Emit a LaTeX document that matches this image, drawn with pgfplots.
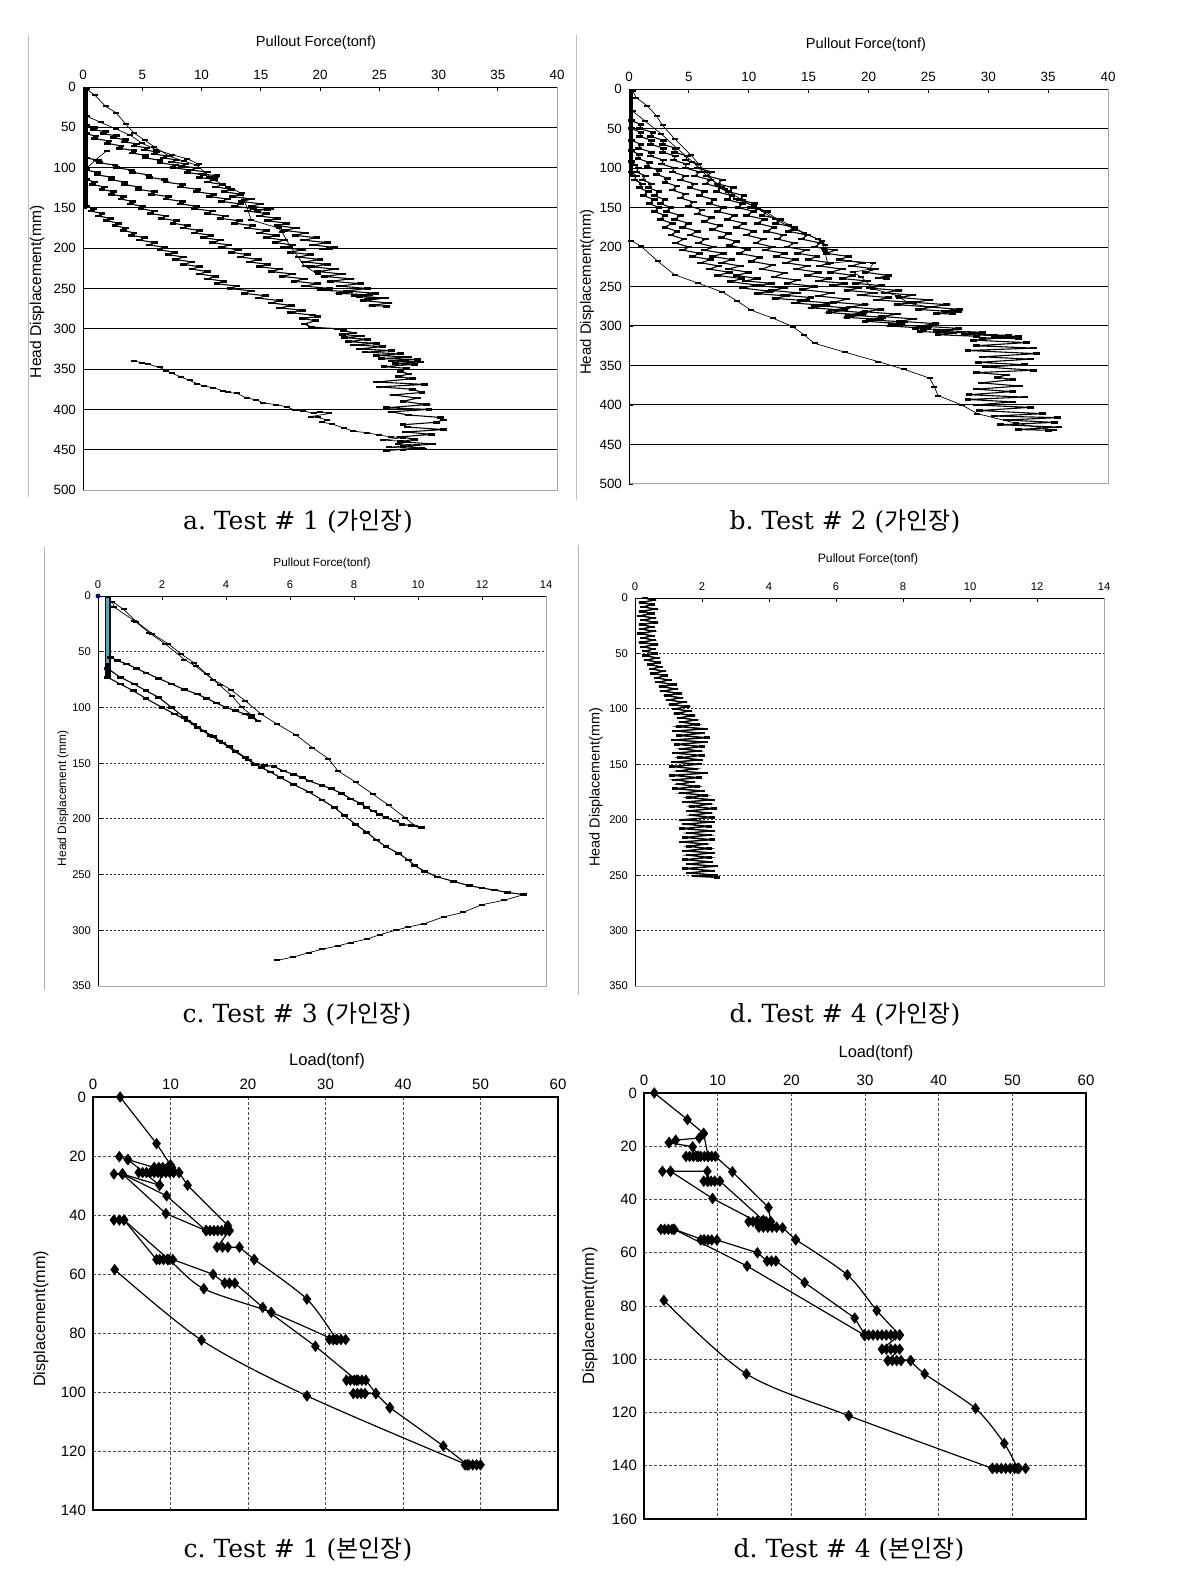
\documentclass[border=0pt]{standalone}
\usepackage{fontspec}
\setmainfont{Liberation Sans}
\newfontfamily\capfont{DejaVu Serif}
\newfontfamily\krfont{Noto Sans CJK KR}
\usepackage{pgfplots}
\pgfplotsset{compat=1.18}
\definecolor{bandcyan}{RGB}{70,170,200}

\pgfplotsset{
  base/.style={
    scale only axis, anchor=north west, y dir=reverse,
    xticklabel pos=upper, xtick pos=upper, ytick pos=lower,
    tick align=inside, major tick length=2pt,
    tick style={black, line width=0.4pt},
    /pgf/number format/assume math mode=true,
  },
  pull/.style={base,
    axis line style={draw=black!35, line width=0.5pt},
    minor ytick={50,100,...,450}, yminorgrids, minor tick length=0pt,
    minor grid style={black, line width=0.5pt},
    ticklabel style={font=\fontsize{6.7}{8}\selectfont},
  },
  pullsmall/.style={base,
    axis line style={draw=black!35, line width=0.5pt},
    ymajorgrids, major grid style={black!80, dash pattern=on 1.2pt off 0.8pt, line width=0.45pt},
    ticklabel style={font=\fontsize{5.6}{7}\selectfont},
  },
  load/.style={base,
    axis line style={draw=black, line width=0.6pt},
    xmajorgrids, ymajorgrids, major tick length=0pt,
    major grid style={black!70, dash pattern=on 1.5pt off 1pt, line width=0.45pt},
    ticklabel style={font=\fontsize{7.5}{9}\selectfont},
  },
  band/.style={black, line width=0.55pt, mark=-, mark size=1.7pt, mark options={line width=1.3pt}},
  thin/.style={black, line width=0.35pt, mark=-, mark size=1.5pt, mark options={line width=1pt}},
  dia/.style={black, line width=0.6pt, mark=diamond*, mark size=2.4pt},
}
\newcommand{\mycap}[3]{{\capfont\fontsize{12.5}{14}\selectfont #1.\ Test\ \#\ #2\ ({\krfont\fontsize{12}{14}\selectfont #3})}}

\begin{document}
\begin{tikzpicture}
\path[use as bounding box] (0,0) rectangle (592pt,-786.5pt);

% ---------- a. Test #1 (가인장)
\begin{axis}[pull, at={(41.5pt,-43.5pt)}, width=237pt, height=201.5pt,
  xmin=0, xmax=40, ymin=0, ymax=500, xtick={0,5,...,40}, ytick={0,50,...,500}]
\draw[black, line width=1pt] (axis cs:0,500) -- (axis cs:0,0) -- (axis cs:40,0);
\addplot[black, line width=2.2pt] coordinates {(0.2,0) (0.2,150)};
\addplot[band] coordinates {(0.3,48)(1.0,50.5)(0.9,53)(1.9,55.5)(1.7,58)(2.8,60.5)(2.6,63)(3.6,65.5)(3.5,68)(4.5,70.5)(4.3,73)(5.4,75.5)(5.2,78)(6.2,80.5)(6.0,83)(7.0,85.5)(6.8,88)(7.9,90.5)(7.5,93)(8.7,95.5)(8.3,98)(9.6,100.5)(9.1,103)(10.5,105.5)(10.0,108)(11.3,110)(10.7,112)(11.2,111)};
\addplot[band] coordinates {(0.3,58)(1.1,61)(1.0,64)(2.2,67)(2.1,70)(3.2,73)(3.1,76)(4.3,79)(4.2,82)(5.3,85)(5.3,88)(6.5,91)(6.5,94)(7.8,97)(7.6,100)(9.0,103)(8.8,106)(10.2,109)(9.8,112)(11.1,115)(10.5,118)(11.8,121)(11.2,124)(12.5,127)(11.9,130)(13.3,133)(12.6,136)(14.2,139)(13.4,142)(15.0,145)(14.2,148)(15.8,151)(14.7,153)(15.6,152)};
\addplot[band] coordinates {(0.3,88)(1.3,91)(1.4,94)(2.7,97)(2.8,100)(4.1,103)(4.2,106)(5.5,109)(5.6,112)(6.9,115)(7.0,118)(8.4,121)(8.2,124)(9.7,127)(9.6,130)(11.0,133)(10.7,136)(12.2,139)(11.7,142)(13.3,145)(12.8,148)(14.4,151)(13.9,154)(15.5,157)(14.9,160)(16.4,163)(15.6,166)(17.2,169)(16.4,172)(18.0,175)(17.0,178)(18.8,181)(17.9,184)(19.7,187)(18.6,190)(20.6,193)(19.4,196)(21.2,199)(20.2,201)(20.8,200)};
\addplot[band] coordinates {(0.3,103)(1.2,106)(1.2,109)(2.4,112)(2.4,115)(3.5,118)(3.5,121)(4.7,124)(4.7,127)(6.0,130)(5.8,133)(7.2,136)(7.0,139)(8.4,142)(8.2,145)(9.6,148)(9.4,151)(10.9,154)(10.5,157)(12.0,160)(11.6,163)(13.2,166)(12.8,169)(14.3,172)(13.9,175)(15.5,178)(14.9,181)(16.3,184)(15.5,187)(17.0,190)(16.2,193)(17.7,196)(16.9,199)(18.5,202)(17.5,205)(19.2,208)(18.2,211)(20.0,214)(18.7,217)(20.6,220)(19.3,223)(21.3,226)(19.8,229)(21.9,232)(20.4,235)(22.6,238)(20.9,241)(23.4,244)(21.6,247)(24.0,250)(22.2,253)(24.7,256)(22.9,259)(25.4,262)(23.7,265)(25.8,268)(24.4,271)(25.6,272)};
\addplot[band] coordinates {(0.3,115)(1.0,118)(0.8,121)(1.8,124)(1.6,127)(2.6,130)(2.4,133)(3.4,136)(3.2,139)(4.2,142)(4.0,145)(5.0,148)(4.9,151)(6.0,154)(5.7,157)(7.0,160)(6.6,163)(7.9,166)(7.6,169)(8.8,172)(8.5,175)(9.8,178)(9.4,181)(10.8,184)(10.2,187)(11.6,190)(10.9,193)(12.3,196)(11.7,199)(13.1,202)(12.5,205)(13.9,208)(13.3,211)(14.8,214)(14.0,217)(15.6,220)(14.9,223)(16.6,226)(15.9,229)(17.7,232)(16.8,235)(18.7,238)(17.8,241)(19.8,244)(18.7,247)(20.8,250)(20.0,252)(22.5,254)(21.6,256)(24.2,258)(23.3,260)(25.5,262)(24.0,263)};
\addplot[band] coordinates {(0.3,148)(0.9,151)(0.7,154)(1.6,157)(1.3,160)(2.3,163)(2.0,166)(3.0,169)(2.7,172)(3.6,175)(3.4,178)(4.3,181)(4.1,184)(5.2,187)(4.8,190)(6.0,193)(5.6,196)(6.9,199)(6.5,202)(7.7,205)(7.2,208)(8.5,211)(7.8,214)(9.2,217)(8.5,220)(9.8,223)(9.2,226)(10.5,229)(9.8,232)(11.2,235)(10.5,238)(11.9,241)(11.3,244)(13.0,247)(12.4,250)(14.2,253)(13.6,256)(15.4,259)(14.8,262)(16.6,265)(15.9,268)(17.6,271)(16.6,274)(18.5,277)(17.5,280)(19.4,283)(19.8,285)(18.5,287)(19.6,290)(18.7,294)(19.3,298)(21.5,300)(22.0,302)(22.8,305)(21.9,307)(23.5,309)(22.1,311)(24.0,313)(22.4,316)(24.8,318)(22.8,320)(25.3,322)(23.3,325)(26.0,327)(23.8,329)(26.8,331)(24.8,333)(27.5,335)(25.2,337)(28.2,338)(26.0,340)(28.5,341)(26.4,343)(28.0,344)(25.4,347)(27.3,349)(26.8,353)(27.5,356)(26.6,359)(27.8,362)(24.8,366)(28.8,369)(25.0,372)(27.8,375)(28.6,379)(26.2,382)(28.2,386)(27.0,390)(29.0,394)(25.6,398)(29.2,400)(26.0,403)(27.5,407)(30.2,410)(30.4,413)(29.8,416)(27.0,419)(27.4,422)(30.4,425)(27.2,428)(29.4,431)(26.8,434)(28.0,437)(26.8,440)(29.5,443)(27.0,446)(28.6,448)(25.6,451)};
\addplot[thin] coordinates {(4.3,340)(5.0,342)(5.5,344)(6.5,348)(7.0,352)(7.5,355)(8.3,360)(9.0,364)(9.6,368)(10.2,371)(11.0,373)(11.8,377)(12.2,379)(13.0,380)(13.8,386)(14.6,388)(15.2,392)(16.3,394)(17.2,397)(17.9,401)(18.6,402)(19.5,405)(20.0,403)(20.8,405)(19.2,409)(19.8,410)(20.6,413)(20.2,416)(21.0,418)(22.0,423)(22.8,427)(24.0,429)(25.0,432)(26.0,434)(27.0,435)(25.3,438)(27.4,440)(26.6,443)(28.2,444)(25.8,447)(28.8,449)(27.0,450)};
\addplot[thin] coordinates {(0.3,3)(1.0,10)(1.9,24)(2.8,32)(3.6,46)(4.3,57)(5.2,66)(6.0,74)(7.3,86)(8.5,92)(9.6,97)(11.0,115)(12.2,124)(13.4,132)(13.6,140)(14.2,165)(16.5,175)(16.8,180)(17.5,198)(18.7,222)(19.8,232)};
\addplot[thin] coordinates {(0.3,36)(1.5,44)(2.8,52)(4.0,60)(5.0,70)(6.2,78)(7.5,84)(8.8,89)(9.8,96)};
\addplot[thin] coordinates {(0.3,101)(1.1,90)(2.0,79)};
\end{axis}

% ---------- b. Test #2 (가인장)
\begin{axis}[pull, at={(314.5pt,-44.5pt)}, width=239.5pt, height=197.5pt,
  xmin=0, xmax=40, ymin=0, ymax=500, xtick={0,5,...,40}, ytick={0,50,...,500}]
\draw[black, line width=1pt] (axis cs:0,500) -- (axis cs:0,0) -- (axis cs:40,0);
\addplot[black, line width=2.2pt] coordinates {(0.15,0) (0.15,112)};
\addplot[band] coordinates {(0.2,40)(1.0,45)(0.9,50)(2.0,55)(1.8,60)(2.9,65)(2.8,70)(3.9,75)(3.8,80)(4.9,85)(4.7,90)(5.8,95)(5.7,100)(6.9,105)(6.5,110)(7.8,115)(7.4,120)(8.7,125)(8.3,130)(9.6,135)(9.2,140)(10.5,145)(10.1,150)(11.6,155)(11.1,160)(12.7,165)(12.2,170)(13.8,175)(13.3,180)(14.9,185)(14.4,190)(16.0,195)(15.5,200)(17.2,204)(16.5,208)(18.3,212)(17.6,216)(19.5,220)(18.6,224)(20.6,228)(19.7,232)(21.7,236)(20.8,239)(21.5,240)};
\addplot[band] coordinates {(0.2,50)(1.0,55)(0.9,60)(1.9,65)(1.8,70)(2.9,75)(2.8,80)(3.9,85)(3.7,90)(4.8,95)(4.7,100)(5.9,105)(5.5,110)(6.8,115)(6.4,120)(7.7,125)(7.3,130)(8.6,135)(8.2,140)(9.5,145)(9.1,150)(10.4,155)(9.8,160)(11.3,165)(10.7,170)(12.1,175)(11.5,180)(12.9,185)(12.4,190)(13.8,195)(13.2,200)(14.8,204)(14.1,208)(15.7,212)(15.0,216)(16.8,220)(15.9,224)(17.8,228)(16.8,232)(18.7,236)(17.8,240)(19.9,243)(18.9,246)(21.1,249)(20.1,252)(22.5,255)(21.3,258)(23.7,261)(22.6,264)(25.1,267)(23.8,270)(26.5,273)(25.2,276)(27.6,279)(26.3,281)(27.5,282)};
\addplot[band] coordinates {(0.2,65)(1.0,70)(0.8,75)(1.9,80)(1.8,85)(2.9,90)(2.7,95)(3.8,100)(3.6,105)(4.7,110)(4.3,115)(5.5,120)(5.1,125)(6.3,130)(5.9,135)(7.1,140)(6.7,145)(7.9,150)(7.4,155)(8.8,160)(8.2,165)(9.6,170)(9.0,175)(10.4,180)(9.8,185)(11.2,190)(10.6,195)(12.0,200)(11.4,204)(13.0,208)(12.3,212)(13.9,216)(13.1,220)(14.9,224)(14.0,228)(15.8,232)(14.9,236)(16.7,240)(15.8,243)(18.0,246)(17.0,249)(19.2,252)(18.2,255)(20.5,258)(19.3,261)(21.7,264)(20.7,267)(23.5,270)(22.4,273)(25.3,276)(24.2,279)(27.1,282)(25.7,284)(27.0,285)};
\addplot[band] coordinates {(0.2,78)(0.85,83)(0.75,88)(1.7,93)(1.5,98)(2.5,103)(2.3,108)(3.2,113)(3.0,118)(4.0,123)(3.6,128)(4.7,133)(4.3,138)(5.4,143)(5.0,148)(6.1,153)(5.7,158)(6.9,163)(6.3,168)(7.6,173)(7.0,178)(8.3,183)(7.7,188)(9.0,193)(8.4,198)(9.9,203)(9.2,208)(10.9,213)(10.2,218)(12.0,223)(11.1,228)(13.0,233)(12.1,238)(14.1,242)(13.2,246)(15.5,250)(14.5,254)(16.9,258)(15.8,262)(18.2,266)(17.1,270)(19.7,273)(18.4,276)(21.0,279)(19.7,282)(22.4,285)(21.1,288)(23.8,291)(22.6,294)(25.6,297)(24.3,300)(27.5,303)(26.5,306)(29.5,308)(28.5,310)(31.7,312)(30.5,314)(32.0,315)};
\addplot[band] coordinates {(0.2,92)(0.5,96)(0.8,100)(0.6,105)(1.4,110)(1.1,115)(1.9,120)(1.6,125)(2.5,130)(2.1,135)(3.0,140)(2.6,145)(3.5,150)(3.1,155)(4.3,160)(3.8,165)(5.0,170)(4.5,175)(5.7,180)(5.1,185)(6.4,190)(5.8,195)(7.1,200)(6.3,204)(7.9,208)(7.0,212)(8.6,216)(7.7,220)(9.3,224)(8.3,228)(10.0,232)(9.0,236)(10.7,240)(9.7,243)(11.9,246)(10.8,249)(13.0,252)(11.9,255)(14.1,258)(12.9,261)(15.2,264)(14.3,268)(16.9,271)(15.5,274)(18.2,277)(16.9,280)(19.6,283)(18.3,286)(21.2,289)(20.1,292)(23.0,295)(21.9,298)(25.0,301)(23.9,303)(26.8,305)(25.7,307)(28.6,309)(28.0,311)(30.5,312)(32.5,313)(28.8,318)(33.2,321)(29.0,325)(33.8,328)(28.3,331)(34.0,335)(29.5,339)(33.5,342)(29.2,346)(33.0,349)(29.8,352)(33.8,356)(29.0,359)(31.5,362)(30.8,365)(32.0,368)(29.4,372)(32.6,376)(29.0,380)(32.0,383)(28.4,387)(33.0,390)(28.3,393)(32.0,396)(29.0,400)(33.5,403)(29.3,407)(34.5,411)(30.5,414)(35.8,416)(31.5,419)(35.5,422)(31.0,425)(35.9,428)(32.5,431)(35.0,432)};
\addplot[band] coordinates {(0.2,105)(0.6,110)(0.45,115)(1.1,120)(0.85,125)(1.6,130)(1.2,135)(2.1,140)(1.7,145)(2.5,150)(2.1,155)(3.0,160)(2.6,165)(3.6,170)(3.0,175)(4.0,180)(3.5,185)(4.6,190)(3.9,195)(5.0,200)(4.5,204)(5.9,208)(5.3,212)(6.8,216)(6.0,220)(7.5,224)(6.7,228)(8.4,232)(7.4,236)(9.4,240)(8.5,244)(10.6,248)(9.5,252)(11.7,256)(10.7,259)(13.2,262)(12.2,265)(14.8,268)(13.8,271)(16.5,274)(15.2,277)(18.0,280)(16.7,283)(19.5,286)(18.2,289)(21.0,292)(19.7,294)(22.8,297)(21.8,300)(24.9,303)(24.6,305)(24.3,307)(27.1,309)(25.8,311)(29.0,313)(29.5,315)(32.5,316)};
\addplot[thin] coordinates {(0.3,2)(0.6,11)(1.5,21)(2.3,34)(2.8,46)(3.8,63)(5.2,84)(6.4,105)(7.4,122)(8.9,139)(10.4,148)(11.3,154)(12.3,164)(13.4,172)(14.6,182)(16.1,193)(16.3,203)(16.6,221)(18.4,218)(20.4,220)(20.1,228)(18.7,232)(19.4,238)(20.4,253)(22.5,262)(23.3,271)(25.0,276)};
\addplot[thin] coordinates {(0.3,28)(1.3,40)(2.7,57)(4.0,75)(5.3,92)(6.5,110)(8.0,127)(9.5,141)(10.8,152)(12.2,165)(13.9,178)(15.8,190)(16.4,197)(16.4,205)};
\addplot[thin] coordinates {(0.2,192)(1.0,199)(2.4,218)(3.8,235)(5.8,246)(7.8,257)(9.0,268)(10.2,280)(12.0,290)(13.7,301)(14.6,311)(15.5,322)(18.0,333)(20.8,345)(23.0,355)(25.1,366)(25.5,377)(25.8,388)(27.8,400)(29.1,411)(32.3,423)(35.5,432)};
\end{axis}

% ---------- c. Test #3 (가인장)
\begin{axis}[pullsmall, at={(49pt,-298pt)}, width=224pt, height=195pt,
  xmin=0, xmax=14, ymin=0, ymax=350, xtick={0,2,...,14}, ytick={0,50,...,350}]
\draw[black, line width=1pt] (axis cs:0,350) -- (axis cs:0,0) -- (axis cs:14,0);
\addplot[black, line width=3pt] coordinates {(0.3,0) (0.3,72)};
\addplot[bandcyan, line width=1.7pt] coordinates {(0.3,2) (0.3,60)};
\addplot[only marks, mark=*, mark size=1pt, blue!60!black] coordinates {(0,0)};
\addplot[thin] coordinates {(0.45,5)(0.5,10)(1.13,22)(1.6,33)(2.1,43)(2.7,57)(3.05,63)(3.6,75)(4.15,84)(4.6,94)(5.1,106)(5.6,115)(6.2,125)(6.7,136)(7.2,146)(7.5,157)(8.05,167)(8.6,178)(9.1,188)(9.6,199)(9.9,206)};
\addplot[thin] coordinates {(0.45,5)(0.8,12)(1.2,23)(1.7,34)(2.2,43)(2.6,52)(3.0,60)(3.4,70)(3.8,80)(4.2,90)(4.5,100)(4.8,107)(5.0,112)};
\addplot[band] coordinates {(0.4,55)(0.6,58)(0.9,61)(1.2,65)(1.5,69)(1.9,74)(2.3,79)(2.7,84)(3.1,88)(3.4,92)(3.7,96)(4.0,100)(4.3,103)(4.6,106)(4.8,109)(5.0,112)};
\addplot[band] coordinates {(0.3,65)(0.7,73)(1.13,79)(1.5,85)(1.9,91)(2.3,100)(2.7,109)(3.0,115)(3.3,121)(3.6,126)(3.8,130)(4.1,135)(4.3,139)(4.6,145)(4.9,151)(5.2,152)(5.5,153)(5.8,157)(6.1,160)(6.4,163)(6.6,166)(7.0,170)(7.3,173)(7.6,177)(7.9,182)(8.2,186)(8.4,190)(8.6,193)(8.8,196)(9.0,199)(9.3,202)(9.5,205)(9.8,206)(10.1,208)};
\addplot[band] coordinates {(0.3,73)(0.7,79)(1.1,85)(1.5,92)(2.0,100)(2.4,106)(2.8,112)(3.1,118)(3.5,125)(3.9,132)(4.3,140)(4.7,147)(5.1,154)(5.4,158)(5.7,163)(6.1,169)(6.6,176)(7.0,183)(7.4,190)(7.7,197)(8.05,205)(8.4,212)(8.7,219)(9.0,225)(9.4,231)(9.7,237)(9.9,242)(10.2,247)(10.6,252)(11.1,256)(11.6,260)(12.0,262)(12.4,264)(12.8,266)(13.3,268)};
\addplot[thin] coordinates {(13.3,268)(12.7,273)(12.0,277)(11.4,284)(10.8,288)(10.2,294)(9.7,297)(9.3,300)(8.8,304)(8.4,308)(7.9,311)(7.5,314)(7.0,317)(6.6,320)(6.1,324)(5.6,327)};
\end{axis}

% ---------- d. Test #4 (가인장)
\begin{axis}[pullsmall, at={(317.5pt,-299pt)}, width=234.5pt, height=194pt,
  xmin=0, xmax=14, ymin=0, ymax=350, xtick={0,2,...,14}, ytick={0,50,...,350}]
\draw[black, line width=1pt] (axis cs:0,350) -- (axis cs:0,0) -- (axis cs:14,0);
\addplot[black, line width=0.7pt, mark=-, mark size=1.5pt, mark options={line width=1.2pt}] coordinates {(0.3,0)(0.55,2)(0.2,4)(0.5,6)(0.25,8)(0.6,10)(0.2,12)(0.5,14)(0.15,16)(0.55,18)(0.25,20)(0.6,22)(0.2,24)(0.5,26)(0.2,28)(0.55,30)(0.15,32)(0.5,34)(0.25,36)(0.55,38)(0.2,40)(0.6,42)(0.25,44)(0.55,46)(0.3,48)(0.6,50)(0.3,52)(0.65,54)(0.35,56)(0.7,58)(0.45,60)(0.75,62)(0.5,64)(0.85,66)(0.55,68)(0.9,70)(0.65,72)(1.0,74)(0.7,76)(1.15,78)(0.8,80)(1.2,82)(0.85,84)(1.3,86)(0.95,88)(1.35,90)(1.0,92)(1.45,94)(1.1,96)(1.55,98)(1.2,100)(1.6,102)(1.25,104)(1.7,106)(1.35,108)(1.8,110)(1.4,112)(1.85,114)(1.3,116)(2.1,118)(1.2,120)(2.0,122)(1.3,124)(2.15,126)(1.15,128)(2.1,130)(1.25,132)(2.0,134)(1.4,136)(1.9,138)(1.2,140)(2.0,142)(1.35,144)(1.95,146)(1.15,148)(1.9,150)(1.1,152)(1.8,154)(1.3,156)(2.1,158)(1.1,160)(1.9,162)(1.2,164)(1.7,166)(1.3,168)(1.85,170)(1.2,172)(2.0,174)(1.4,176)(2.1,178)(1.6,180)(2.3,182)(1.5,184)(2.2,186)(1.7,188)(2.35,190)(1.6,192)(2.2,194)(1.7,196)(2.3,198)(1.4,200)(2.3,202)(1.5,204)(2.2,206)(1.4,208)(2.3,210)(1.6,212)(2.2,214)(1.5,216)(2.3,218)(1.4,220)(2.1,222)(1.6,224)(2.2,226)(1.5,228)(2.3,230)(1.6,232)(2.2,234)(1.5,236)(2.25,238)(1.6,240)(2.4,242)(1.5,244)(2.3,246)(1.6,248)(2.4,250)(1.8,251)(2.45,252)};
\end{axis}

% ---------- c. Test #1 (본인장)
\begin{axis}[load, at={(46.5pt,-548.5pt)}, width=232.5pt, height=206.5pt,
  xmin=0, xmax=60, ymin=0, ymax=140, xtick={0,10,...,60}, ytick={0,20,...,140}]
\addplot[dia] coordinates {(3.5,0)(8.2,15.8)(10.0,23.0)(11.1,25.6)(12.2,29.9)(17.4,43.6)(17.6,45.3)};
\addplot[dia] coordinates {(7.9,23.9)(8.5,23.9)(9.0,23.9)(9.6,23.9)(10.2,23.9)};
\addplot[dia] coordinates {(5.9,25.6)(6.4,25.6)(6.9,25.6)(7.4,25.6)(7.9,25.6)(8.4,25.6)(8.9,25.6)(9.4,25.6)(9.9,25.6)(10.4,25.6)(11.1,25.6)};
\addplot[dia] coordinates {(3.4,20.2)(4.5,21.2)(7.9,23.9)};
\addplot[dia] coordinates {(4.5,21.2)(8.6,29.9)(8.8,25.6)};
\addplot[dia] coordinates {(2.7,26.1)(3.8,26.1)(8.6,29.9)};
\addplot[dia] coordinates {(3.8,26.1)(9.5,33.5)(14.6,45.3)};
\addplot[dia] coordinates {(3.8,26.1)(9.4,39.5)(14.6,45.3)};
\addplot[dia] coordinates {(14.6,45.3)(15.1,45.3)(15.6,45.3)(16.1,45.3)(16.6,45.3)(17.1,45.3)(17.6,45.3)};
\addplot[dia] coordinates {(17.6,45.3)(16.0,50.9)(16.7,50.9)(17.4,50.9)(18.9,50.9)(20.8,55.1)};
\addplot[dia, smooth] coordinates {(20.8,55.1)(27.6,68.5)(31.4,82.2)};
\addplot[dia] coordinates {(30.5,82.2)(31.0,82.2)(31.5,82.2)(32.0,82.2)(32.6,82.2)};
\addplot[dia] coordinates {(2.7,41.7)(3.4,41.7)(4.0,41.7)(8.2,55.1)(8.6,55.1)(9.1,55.1)(9.6,55.1)(10.3,55.1)(15.5,60.1)(17.0,63.1)(17.6,63.1)(18.3,63.1)(21.9,71.3)(28.7,84.5)(34.0,96)};
\addplot[dia] coordinates {(32.7,96)(33.2,96)(33.7,96)(34.2,96)(34.7,96)(35.2,96)(36.5,100.5)};
\addplot[dia] coordinates {(33.6,100.5)(34.1,100.5)(34.6,100.5)(35.1,100.5)(36.5,100.5)(38.3,105.3)};
\addplot[dia, smooth] coordinates {(38.3,105.3)(45.2,118.3)(48.3,124.7)};
\addplot[dia] coordinates {(48.0,124.7)(48.5,124.7)(49.0,124.7)(49.5,124.7)(50.0,124.7)};
\addplot[dia, smooth] coordinates {(4.0,41.7)(9.8,55.1)(14.3,65)(23.0,73)(31.0,82.2)};
\addplot[dia, smooth] coordinates {(2.8,58.5)(14.0,82.4)(27.6,101.3)(48.3,124.7)};
\end{axis}

% ---------- d. Test #4 (본인장)
\begin{axis}[load, at={(322pt,-546.5pt)}, width=221pt, height=213pt,
  xmin=0, xmax=60, ymin=0, ymax=160, xtick={0,10,...,60}, ytick={0,20,...,160}]
\addplot[dia] coordinates {(1.4,0)(5.9,10)(8.1,15.2)(8.7,23.8)};
\addplot[dia] coordinates {(3.4,18.6)(4.3,17.7)(7.5,16.9)(8.1,15.2)};
\addplot[dia] coordinates {(3.4,18.6)(6.6,20.2)(7.4,23.8)};
\addplot[dia] coordinates {(5.7,23.8)(6.2,23.8)(6.7,23.8)(7.2,23.8)(7.7,23.8)(8.2,23.8)(8.7,23.8)(9.2,23.8)(9.7,23.8)(12.0,29.6)(16.9,43.0)(17.2,48.3)};
\addplot[dia] coordinates {(14.2,48.3)(14.8,48.3)(15.4,48.3)(16.0,48.3)(16.6,48.3)(17.2,48.3)};
\addplot[dia] coordinates {(15.6,50.4)(16.2,50.4)(16.8,50.4)(17.4,50.4)(18.0,50.4)(18.8,50.6)(20.6,55.1)};
\addplot[dia, smooth] coordinates {(20.6,55.1)(27.6,68.3)(31.6,81.7)(34.7,90.9)};
\addplot[dia] coordinates {(2.5,29.4)(3.6,29.4)(8.6,29.4)(8.7,33.1)};
\addplot[dia] coordinates {(8.1,33.1)(8.6,33.1)(9.1,33.1)(9.6,33.1)(10.3,33.1)(16.2,47.8)};
\addplot[dia] coordinates {(3.6,29.4)(9.3,39.6)(15.3,48.3)};
\addplot[dia] coordinates {(2.3,51.2)(2.8,51.2)(3.3,51.2)(3.8,51.2)(4.1,51.2)(8.1,55.2)};
\addplot[dia] coordinates {(7.7,55.2)(8.2,55.2)(8.7,55.2)(9.2,55.2)(9.9,55.2)(15.4,60)(16.7,63.1)(17.3,63.1)(17.9,63.1)(21.8,71.2)(28.6,84.5)(30.0,90.9)};
\addplot[dia] coordinates {(4.1,51.2)(14.0,65)(29.9,90.9)};
\addplot[dia] coordinates {(29.9,90.9)(30.5,90.9)(31.1,90.9)(31.7,90.9)(32.3,90.9)(32.9,90.9)(33.5,90.9)(34.1,90.9)(34.7,90.9)};
\addplot[dia] coordinates {(34.7,90.9)(32.3,96.2)(32.9,96.2)(33.5,96.2)(34.1,96.2)(34.7,96.2)(33.1,100.5)};
\addplot[dia] coordinates {(33.1,100.5)(33.7,100.5)(34.3,100.5)(34.9,100.5)(36.2,100.5)};
\addplot[dia, smooth] coordinates {(36.2,100.5)(38.1,105.5)(45.0,118.5)(48.9,131.6)(50.7,141)};
\addplot[dia] coordinates {(47.3,141)(47.9,141)(48.5,141)(49.1,141)(49.7,141)(50.3,141)(50.9,141)(51.8,141)};
\addplot[dia, smooth] coordinates {(2.7,77.9)(13.9,105.5)(27.8,121.2)(47.3,141)};
\end{axis}

\begin{scope}[x=0.5pt, y=-0.5pt]
\draw[black!25, line width=0.4pt] (28,35) -- (28,497);
\draw[black!25, line width=0.4pt] (576,35) -- (576,500);
\draw[black!30, line width=0.4pt] (44,547) -- (44,990);
\draw[black!30, line width=0.4pt] (578,545) -- (578,995);
\node[font=\fontsize{7.3}{9}\selectfont] at (316,43) {Pullout Force(tonf)};
\node[font=\fontsize{7.3}{9}\selectfont] at (866,45) {Pullout Force(tonf)};
\node[font=\fontsize{5.9}{7}\selectfont] at (322,563) {Pullout Force(tonf)};
\node[font=\fontsize{6.1}{7}\selectfont] at (868,559) {Pullout Force(tonf)};
\node[font=\fontsize{8.3}{10}\selectfont] at (327,1061) {Load(tonf)};
\node[font=\fontsize{8.2}{10}\selectfont] at (876,1053) {Load(tonf)};
\node[rotate=90, font=\fontsize{7.8}{9}\selectfont] at (37,292) {Head Displacement(mm)};
\node[rotate=90, font=\fontsize{7.5}{9}\selectfont] at (587,292) {Head Displacement(mm)};
\node[rotate=90, font=\fontsize{6}{7}\selectfont] at (63,798) {Head Displacement (mm)};
\node[rotate=90, font=\fontsize{7.2}{8}\selectfont] at (596,787) {Head Displacement(mm)};
\node[rotate=90, font=\fontsize{8.1}{10}\selectfont] at (41,1319) {Displacement(mm)};
\node[rotate=90, font=\fontsize{8.2}{10}\selectfont] at (590,1316) {Displacement(mm)};
\node at (298,522) {\mycap{a}{1}{가인장}};
\node at (845,522) {\mycap{b}{2}{가인장}};
\node at (297,1015) {\mycap{c}{3}{가인장}};
\node at (845,1015) {\mycap{d}{4}{가인장}};
\node at (298,1550) {\mycap{c}{1}{본인장}};
\node at (849,1550) {\mycap{d}{4}{본인장}};
\end{scope}
\end{tikzpicture}
\end{document}
